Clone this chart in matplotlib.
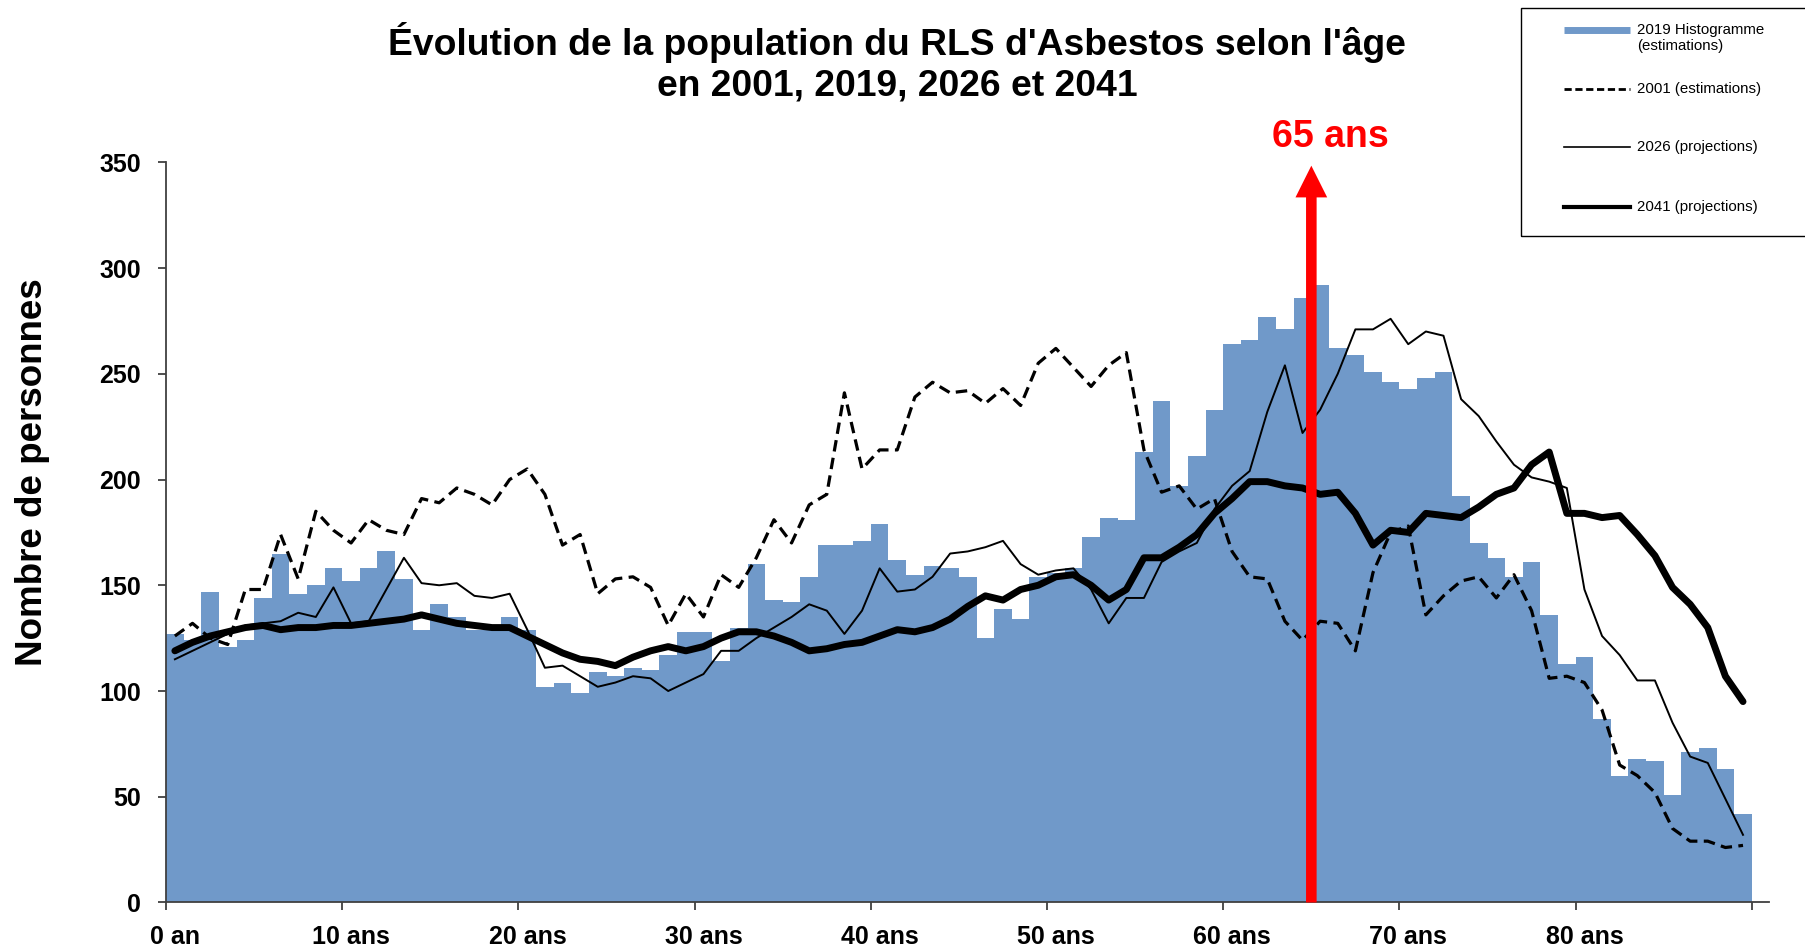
import numpy as np
import matplotlib
matplotlib.use('Agg')
import matplotlib.pyplot as plt
from matplotlib.lines import Line2D
from matplotlib.patches import Rectangle
import matplotlib.transforms as mtransforms

plt.rcParams['font.family'] = ['Liberation Sans', 'DejaVu Sans']

# donnees (ages 0 a 89)
ages = np.arange(90)
pop2019 = [127, 124, 147, 121, 124, 144, 165, 146, 150, 158,
           152, 158, 166, 153, 129, 141, 135, 129, 129, 135,
           129, 102, 104, 99, 109, 107, 111, 110, 117, 128,
           128, 114, 130, 160, 143, 142, 154, 169, 169, 171,
           179, 162, 155, 159, 158, 154, 125, 139, 134, 154,
           156, 158, 173, 182, 181, 213, 237, 197, 211, 233,
           264, 266, 277, 271, 286, 292, 262, 259, 251, 246,
           243, 248, 251, 192, 170, 163, 154, 161, 136, 113,
           116, 87, 60, 68, 67, 51, 71, 73, 63, 42]
pop2001 = [126, 132, 125, 122, 148, 148, 174, 153, 185, 176,
           170, 181, 176, 174, 191, 189, 196, 193, 188, 200,
           205, 193, 169, 174, 146, 153, 154, 149, 131, 146,
           135, 155, 149, 163, 181, 170, 188, 193, 241, 205,
           214, 214, 239, 246, 241, 242, 236, 243, 235, 255,
           262, 253, 244, 254, 260, 214, 194, 197, 186, 191,
           166, 154, 153, 133, 124, 133, 132, 119, 156, 175,
           178, 136, 145, 152, 154, 144, 155, 138, 106, 107,
           104, 91, 65, 60, 52, 35, 29, 29, 26, 27]
pop2026 = [115, 119, 123, 127, 131, 132, 133, 137, 135, 149,
           132, 133, 148, 163, 151, 150, 151, 145, 144, 146,
           129, 111, 112, 107, 102, 104, 107, 106, 100, 104,
           108, 119, 119, 125, 130, 135, 141, 138, 127, 138,
           158, 147, 148, 154, 165, 166, 168, 171, 160, 155,
           157, 158, 148, 132, 144, 144, 161, 166, 170, 186,
           197, 204, 232, 254, 222, 233, 250, 271, 271, 276,
           264, 270, 268, 238, 230, 218, 207, 201, 199, 196,
           148, 126, 117, 105, 105, 85, 69, 66, 49, 32]
pop2041 = [119, 123, 126, 128, 130, 131, 129, 130, 130, 131,
           131, 132, 133, 134, 136, 134, 132, 131, 130, 130,
           126, 122, 118, 115, 114, 112, 116, 119, 121, 119,
           121, 125, 128, 128, 126, 123, 119, 120, 122, 123,
           126, 129, 128, 130, 134, 140, 145, 143, 148, 150,
           154, 155, 150, 143, 148, 163, 163, 168, 174, 184,
           191, 199, 199, 197, 196, 193, 194, 184, 169, 176,
           175, 184, 183, 182, 187, 193, 196, 207, 213, 184,
           184, 182, 183, 174, 164, 149, 141, 130, 107, 95]

xticks = [0, 10, 20, 30, 40, 50, 60, 70, 80, 90]
xticklabels = ['0 an', '10 ans', '20 ans', '30 ans', '40 ans', '50 ans',
               '60 ans', '70 ans', '80 ans', '']
yticks = [0, 50, 100, 150, 200, 250, 300, 350]
age_retraite = 65

bleu = '#7099C9'
W, H = 1805, 948

fig = plt.figure(figsize=(18.05, 9.48), dpi=100)
ax = fig.add_axes([0.0920, 0.0480, 0.8883, 0.7808])

ax.bar(ages, pop2019, width=1.0, align='edge', color=bleu, linewidth=0, zorder=1)
xc = ages + 0.5
ax.plot(xc, pop2001, color='black', lw=2.3, dashes=(3.6, 2.0), zorder=3)
ax.plot(xc, pop2026, color='black', lw=1.4, zorder=3)
ax.plot(xc, pop2041, color='black', lw=5, solid_joinstyle='round',
        solid_capstyle='round', zorder=4)

# fleche 65 ans
ax.arrow(age_retraite, 0, 0, 348.4, width=0.6, head_width=1.8, head_length=15,
         length_includes_head=True, color='#FF0000', lw=0, zorder=6, clip_on=False)
ax.text(age_retraite + 1.1, 362, '65 ans', color='#FF0000', fontsize=27,
        fontweight='bold', ha='center', va='center', clip_on=False)

ax.set_xlim(0, 91)
ax.set_ylim(0, 350)
ax.set_xticks(xticks)
ax.set_xticklabels(xticklabels)
ax.set_yticks(yticks)
ax.tick_params(axis='both', direction='out', length=6, width=1.3, color='#404040',
               labelsize=18)
ax.tick_params(axis='x', pad=10)
ax.tick_params(axis='y', pad=12)
for lab in ax.get_xticklabels() + ax.get_yticklabels():
    lab.set_fontweight('bold')
off = mtransforms.ScaledTranslation(9 / 100, 0, fig.dpi_scale_trans)
for lab in ax.get_xticklabels():
    lab.set_transform(lab.get_transform() + off)
for s in ['top', 'right']:
    ax.spines[s].set_visible(False)
for s in ['left', 'bottom']:
    ax.spines[s].set_color('#404040')
    ax.spines[s].set_linewidth(1.3)

fig.text(33 / W, 1 - 472 / H, 'Nombre de personnes', rotation=90, fontsize=26.5,
         fontweight='bold', ha='center', va='center')

fig.text(0.497, 1 - 42.6 / H, "Évolution de la population du RLS d'Asbestos selon l'âge",
         fontsize=26.8, fontweight='bold', ha='center', va='center')
fig.text(0.497, 1 - 86 / H, 'en 2001, 2019, 2026 et 2041',
         fontsize=26.8, fontweight='bold', ha='center', va='center')

# legende (dessinee a la main pour garder l'espacement d'Excel)
leg_styles = [dict(color=bleu, lw=5, solid_capstyle='butt'),
              dict(color='black', lw=2, dashes=(2.6, 1.3)),
              dict(color='black', lw=1.2),
              dict(color='black', lw=3)]
leg_labels = ['2019 Histogramme', '2001 (estimations)',
              '2026 (projections)', '2041 (projections)']
leg_y = [30, 88.6, 147.4, 207.2]
for st, lab, yy in zip(leg_styles, leg_labels, leg_y):
    fy = 1 - yy / H
    fig.add_artist(Line2D([1564 / W, 1630 / W], [fy, fy], transform=fig.transFigure, **st))
    fig.text(1637 / W, fy, lab, fontsize=10.8, ha='left', va='center')
fig.text(1637 / W, 1 - 46 / H, '(estimations)', fontsize=10.8, ha='left', va='center')
fig.add_artist(Rectangle((1520.7 / W, 1 - 236 / H), 0.2, 228 / H,
                         transform=fig.transFigure, fill=False, edgecolor='black', lw=1))

fig.savefig('out.png', dpi=100)
